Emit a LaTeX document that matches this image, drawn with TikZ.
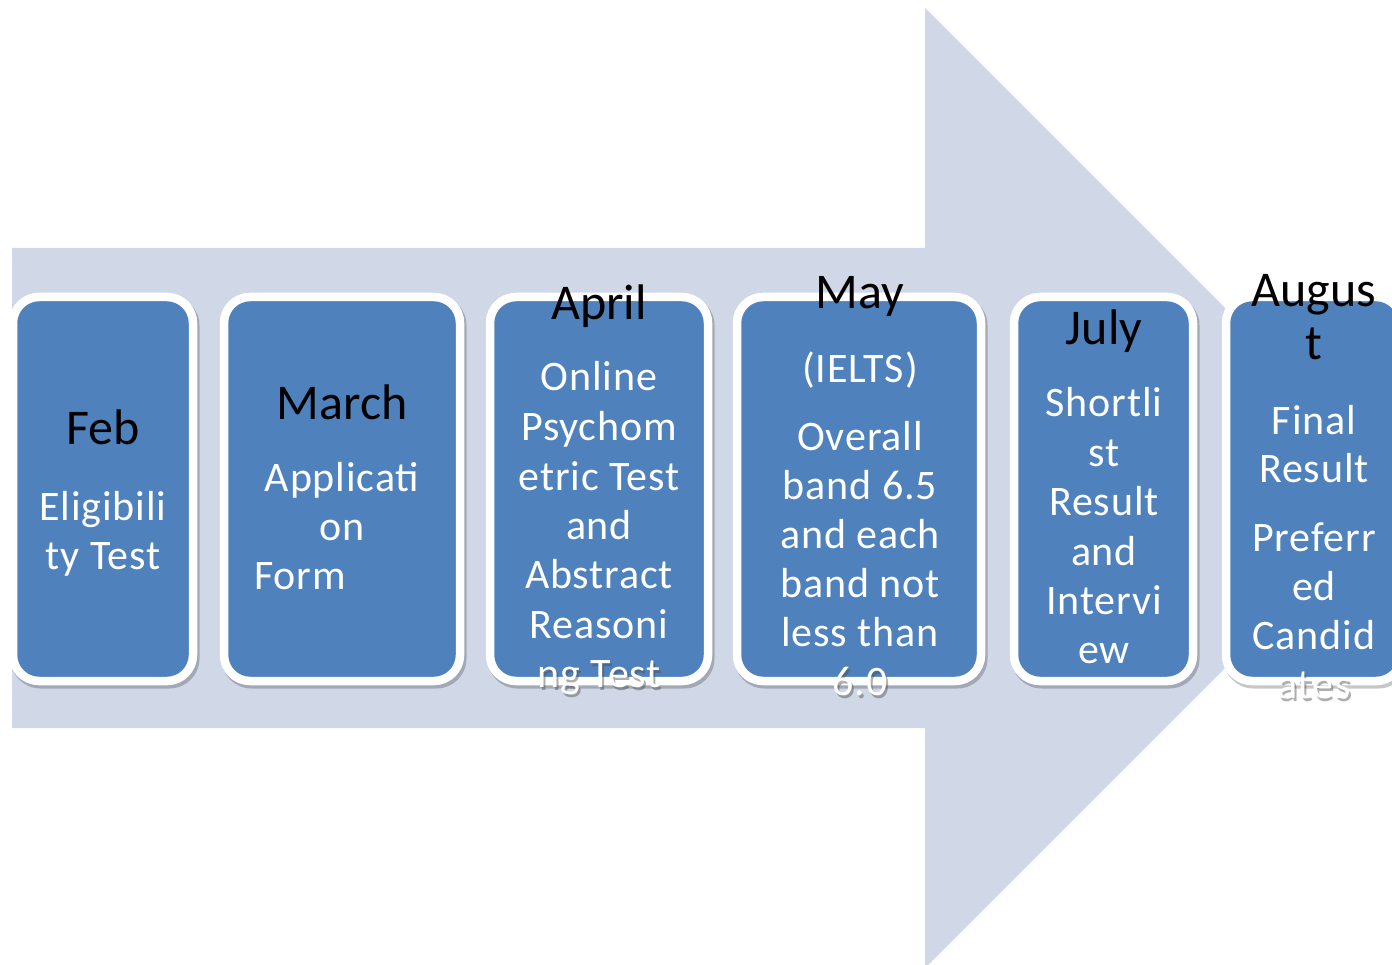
\documentclass[tikz,border=0pt]{standalone}
\usepackage{fontspec}
\setmainfont{Carlito}
\usetikzlibrary{positioning}
\definecolor{arrowfill}{RGB}{208,216,232}
\definecolor{stagefill}{RGB}{79,129,189}

\tikzset{
  stage/.style={fill=stagefill, draw=white, line width=8.5pt, rounded corners=26pt},
  stageshadow/.style={fill=black, opacity=0.22, rounded corners=30pt},
  month/.style={anchor=base, text=black, inner sep=0pt, font=\fontsize{50}{60}\selectfont},
  detail/.style={anchor=base, text=white, inner sep=0pt, font=\fontsize{42}{49}\selectfont\addfontfeatures{LetterSpace=2}},
  spillshadow/.style={detail, text=black!70, opacity=0.45},
}

\begin{document}
\begin{tikzpicture}[x=1pt, y=-1pt]
    \clip (0,0) rectangle (1392,965);

    % big arrow behind the stages
    \fill[arrowfill] (12,248) -- (925,248) -- (925,8) -- (1405,488) -- (925,968) -- (925,728) -- (12,728) -- cycle;

    % stage boxes
    \foreach \l/\r in {13/193, 224/460, 490/708, 737/981, 1014/1193, 1226/1402} {
      \fill[stageshadow] (\l-2.5,295.5) rectangle (\r+6.5,688.5);
      \draw[stage] (\l,297) rectangle (\r,681);
    }

    % months
    \foreach \x/\y/\t [count=\i] in {103/444/Feb, 342/419/March, 599/320/April, 860/309/May, 1104/345/July, 1314/307/Augus, 1314/360/t}
      \node[month] (m\i) at (\x,\y) {\t};

    % details
    \foreach \x/\y/\t [count=\i] in {103/520/Eligibili, 103/569/ty Test,
        342/491/Applicati, 342/540/on, 300/589/Form,
        599/391/Online, 599/440/Psychom, 599/490/etric Test, 599/539/and, 599/588/Abstract, 599/638/Reasoni,
        860/382/(IELTS), 860/450/Overall, 860/499/band 6.5, 860/548/and each, 860/597/band not, 860/646/less than,
        1104/417/Shortli, 1104/466/st, 1104/515/Result, 1104/565/and, 1104/614/Intervi, 1104/663/ew,
        1314/434/Final, 1314/482/Result, 1314/551/Preferr, 1314/600/ed, 1314/649/Candid}
      \node[detail] (d\i) at (\x,\y) {\t};

    % lines running out of their boxes
    \foreach \x/\y/\t [count=\i] in {599/687/ng Test, 860/695/6.0, 1314/698/ates} {
      \node[spillshadow] (ss\i) at (\x+2,\y+3) {\t};
      \node[detail] (s\i) at (\x,\y) {\t};
    }
\end{tikzpicture}
\end{document}
